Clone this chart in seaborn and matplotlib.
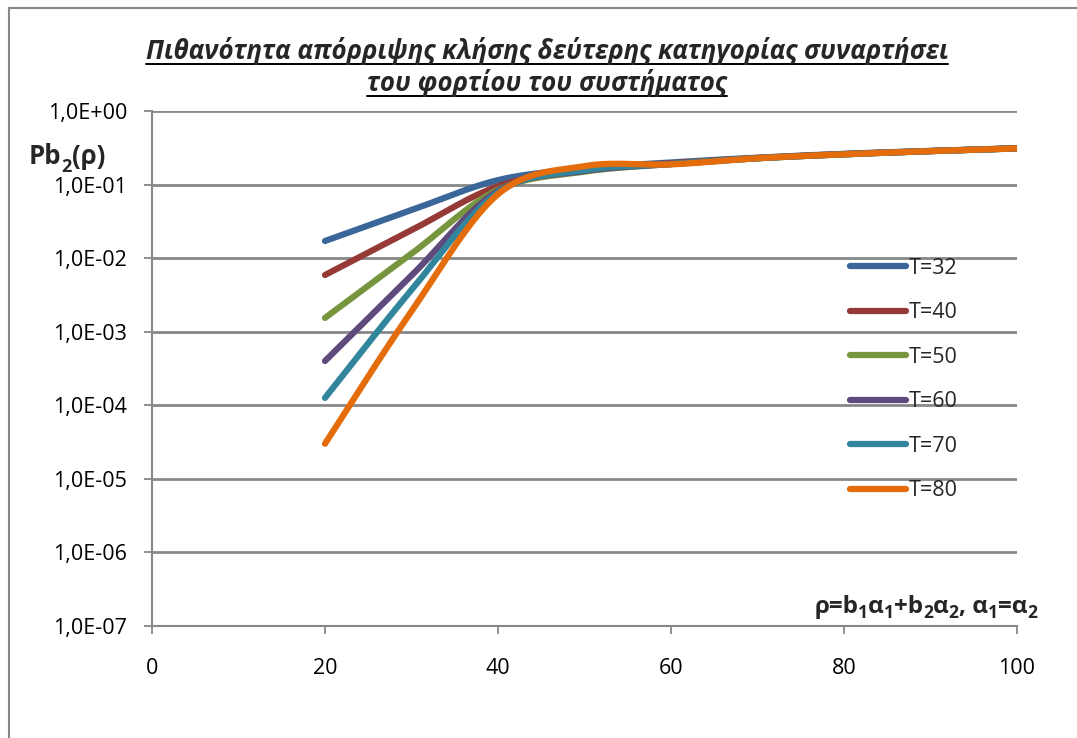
import numpy as np
import pandas as pd
import matplotlib
matplotlib.use("Agg")
import matplotlib.pyplot as plt
from matplotlib.lines import Line2D
from matplotlib.patches import Rectangle
import seaborn as sns

# Offered load values and blocking probability per series
rho = [20, 30, 40, 50, 60, 70, 80, 90, 100]
series_names = ["T=32", "T=40", "T=50", "T=60", "T=70", "T=80"]
pb_T32 = [1.71e-2, 4.5e-2, 0.115, 0.165, 0.200, 0.232, 0.262, 0.287, 0.312]
pb_T40 = [5.9e-3, 2.4e-2, 0.095, 0.160, 0.195, 0.230, 0.260, 0.286, 0.311]
pb_T50 = [1.54e-3, 1.15e-2, 0.085, 0.150, 0.190, 0.228, 0.258, 0.285, 0.310]
pb_T60 = [4.0e-4, 5.8e-3, 0.082, 0.153, 0.190, 0.228, 0.258, 0.285, 0.310]
pb_T70 = [1.26e-4, 3.7e-3, 0.078, 0.157, 0.190, 0.228, 0.258, 0.285, 0.310]
pb_T80 = [3.0e-5, 1.9e-3, 0.074, 0.178, 0.188, 0.228, 0.258, 0.285, 0.310]
all_series = [pb_T32, pb_T40, pb_T50, pb_T60, pb_T70, pb_T80]

colors = ["#3B6699", "#963A38", "#77953D", "#5E4A7D", "#31859C", "#E46C0A"]
y_ticks = [1e0, 1e-1, 1e-2, 1e-3, 1e-4, 1e-5, 1e-6, 1e-7]
y_tick_labels = ["1,0E+00", "1,0E-01", "1,0E-02", "1,0E-03", "1,0E-04",
                 "1,0E-05", "1,0E-06", "1,0E-07"]
x_ticks = [0, 20, 40, 60, 80, 100]

title_lines = ["Πιθανότητα απόρριψης κλήσης δεύτερης κατηγορίας συναρτήσει",
               "του φορτίου του συστήματος"]
# Axis titles as (text, is_subscript) runs
y_title_runs = [("Pb", False), ("2", True), ("(ρ)", False)]
x_title_runs = [("ρ=b", False), ("1", True), ("α", False), ("1", True),
                ("+b", False), ("2", True), ("α", False), ("2", True),
                (", α", False), ("1", True), ("=α", False), ("2", True)]


def smooth_curve(xs, ys, n=40):
    """Catmull-Rom style smoothing in (x, log10 y) space."""
    px = np.asarray(xs, float)
    py = np.log10(np.asarray(ys, float))
    outx, outy = [], []
    m = len(px)
    for i in range(m - 1):
        p0 = (px[max(i - 1, 0)], py[max(i - 1, 0)])
        p1 = (px[i], py[i])
        p2 = (px[i + 1], py[i + 1])
        p3 = (px[min(i + 2, m - 1)], py[min(i + 2, m - 1)])
        c1 = (p1[0] + (p2[0] - p0[0]) / 6, p1[1] + (p2[1] - p0[1]) / 6)
        c2 = (p2[0] - (p3[0] - p1[0]) / 6, p2[1] - (p3[1] - p1[1]) / 6)
        t = np.linspace(0, 1, n, endpoint=(i == m - 2))
        b0, b1, b2, b3 = (1 - t) ** 3, 3 * t * (1 - t) ** 2, 3 * t ** 2 * (1 - t), t ** 3
        outx.extend(b0 * p1[0] + b1 * c1[0] + b2 * c2[0] + b3 * p2[0])
        outy.extend(b0 * p1[1] + b1 * c1[1] + b2 * c2[1] + b3 * p2[1])
    return np.array(outx), 10 ** np.array(outy)


sns.set_theme(style="white")
plt.rcParams["font.family"] = ["Open Sans", "DejaVu Sans"]

W, H = 1077, 738
fig = plt.figure(figsize=(W / 100, H / 100), dpi=100)
fig.patch.set_facecolor("white")
ax = fig.add_axes([152 / W, 1 - 626 / H, (1017 - 152) / W, (626 - 111) / H])

frames = []
for name, vals in zip(series_names, all_series):
    sx, sy = smooth_curve(rho, vals)
    frames.append(pd.DataFrame({"rho": sx, "pb": sy, "T": name}))
df = pd.concat(frames, ignore_index=True)

sns.lineplot(data=df, x="rho", y="pb", hue="T", hue_order=series_names,
             palette=colors, sort=False, estimator=None, linewidth=4.5,
             solid_capstyle="round", ax=ax, legend=False)

ax.set_yscale("log")
ax.set_ylim(1e-7, 1e0)
ax.set_xlim(0, 100)
ax.set_yticks(y_ticks)
ax.set_yticklabels(y_tick_labels)
ax.minorticks_off()
ax.set_xticks(x_ticks)
ax.set_xticklabels([str(v) for v in x_ticks])
ax.set_xlabel("")
ax.set_ylabel("")

grid_c = "#888888"
ax.grid(False)
for yv in y_ticks[:-1]:
    ax.axhline(yv, color=grid_c, linewidth=2, zorder=0.5)
for side in ["top", "right"]:
    ax.spines[side].set_visible(False)
for side in ["left", "bottom"]:
    ax.spines[side].set_color(grid_c)
    ax.spines[side].set_linewidth(1.5)
ax.tick_params(axis="y", direction="out", length=6, width=1.3, color=grid_c,
               pad=12, labelsize=15.5, labelcolor="black", left=True)
ax.tick_params(axis="x", direction="out", length=6, width=1.3, color=grid_c,
               pad=17, labelsize=15.5, labelcolor="black", bottom=True)

# Legend
handles = [Line2D([0], [0], color=c, linewidth=4.5, solid_capstyle="round")
           for c in colors]
ax.legend(handles, series_names, loc="upper left",
          bbox_to_anchor=(850 / W, 1 - 258 / H), bbox_transform=fig.transFigure,
          frameon=False, fontsize=15.5, handlelength=2.6, handletextpad=0.12,
          labelspacing=1.09, borderpad=0, borderaxespad=0)

fig.canvas.draw()
renderer = fig.canvas.get_renderer()


def draw_runs(runs, x_px, base_px, size, sub_size, sub_drop, align="left"):
    """Lay out bold text runs with subscripts, left or right aligned."""
    widths = []
    for txt, sub in runs:
        t = fig.text(0, 0, txt, fontsize=sub_size if sub else size,
                     fontweight="bold")
        widths.append(t.get_window_extent(renderer).width)
        t.remove()
    total = sum(widths)
    x = x_px - total if align == "right" else x_px
    for (txt, sub), w in zip(runs, widths):
        yb = base_px + (sub_drop if sub else 0)
        fig.text(x / W, 1 - yb / H, txt, fontsize=sub_size if sub else size,
                 fontweight="bold", ha="left", va="baseline")
        x += w


draw_runs(y_title_runs, 29, 164, 18.5, 13, 8)
draw_runs(x_title_runs, 1037, 613, 17.5, 12.5, 5, align="right")

# Title, bold italic and underlined
t1 = fig.text(547 / W, 1 - 59 / H, title_lines[0], fontsize=15,
              fontweight="bold", fontstyle="italic", ha="center", va="baseline")
t2 = fig.text(547 / W, 1 - 91 / H, title_lines[1], fontsize=15,
              fontweight="bold", fontstyle="italic", ha="center", va="baseline")

fig.canvas.draw()
target_w = 805
bb = t1.get_window_extent(renderer)
scale = target_w / bb.width
for t in (t1, t2):
    t.set_fontsize(15 * scale)
fig.canvas.draw()
for t, base in ((t1, 59), (t2, 91)):
    b = t.get_window_extent(renderer)
    yline = 1 - (base + 5) / H
    fig.add_artist(Line2D([b.x0 / W, b.x1 / W], [yline, yline],
                          color="black", linewidth=1.4,
                          transform=fig.transFigure))

# Outer chart frame
fig.add_artist(Rectangle((8.5 / W, -0.1), 1.2, 1 - 8.5 / H + 0.1,
                         transform=fig.transFigure, fill=False,
                         edgecolor="#888888", linewidth=1.5))

fig.savefig("out.png", dpi=100, facecolor="white")
